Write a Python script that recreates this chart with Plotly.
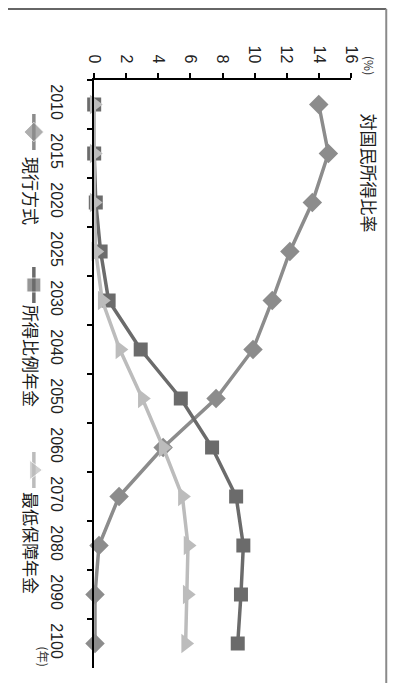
import plotly.graph_objects as go

# Pension benefit projections as a share of national income (%)
years = ["2010", "2015", "2020", "2025", "2030", "2040", "2050",
         "2060", "2070", "2080", "2090", "2100"]
current_system = [14.0, 14.6, 13.6, 12.2, 11.1, 9.9, 7.6, 4.3, 1.55, 0.3, 0.05, 0.05]
earnings_related = [0.0, 0.0, 0.1, 0.4, 0.9, 2.9, 5.4, 7.35, 8.85, 9.3, 9.15, 8.95]
minimum_guarantee = [0.0, 0.0, 0.0, 0.1, 0.5, 1.6, 3.0, 4.3, 5.5, 5.85, 5.8, 5.7]

series_names = ["現行方式", "所得比例年金", "最低保障年金"]
series_colors = ["#8c8c8c", "#6b6b6b", "#bcbcbc"]
series_symbols = ["diamond", "square", "triangle-right"]
series_sizes = [15, 14, 17]

W, H = 401, 683
FONT = "Liberation Sans, Noto Sans CJK JP, sans-serif"
JP = "Noto Sans CJK JP, sans-serif"

# plot-area placement in pixels
left, right, top, bottom = 90, 358, 80, 668

fig = go.Figure()

for name, vals, col, sym, sz in zip(series_names,
                                    [current_system, earnings_related, minimum_guarantee],
                                    series_colors, series_symbols, series_sizes):
    fig.add_trace(go.Scatter(
        x=vals, y=years, mode="lines+markers", name=name,
        line=dict(color=col, width=3.5),
        marker=dict(symbol=sym, size=sz, color=col),
        cliponaxis=False, showlegend=False,
        xaxis="x", yaxis="y",
    ))

# rotated legend, drawn on a full-page pixel overlay axis
legend_rows = [(132, 155), (285, 303), (470, 490)]
for (cy, ty), name, col, sym, sz in zip(legend_rows, series_names, series_colors,
                                        series_symbols, series_sizes):
    fig.add_trace(go.Scatter(
        x=[27, 27, 27], y=[cy - 18, cy, cy + 18], mode="lines+markers",
        line=dict(color=col, width=3.5),
        marker=dict(symbol=sym, size=[0, sz, 0], color=col),
        showlegend=False, hoverinfo="skip", xaxis="x2", yaxis="y2",
    ))
    fig.add_annotation(x=25, y=ty, xref="x2", yref="y2", text=name,
                       textangle=90, showarrow=False, xanchor="center", yanchor="top",
                       font=dict(family=JP, size=17, color="#1a1a1a"))

fig.add_annotation(x=378, y=112, xref="x2", yref="y2", text="対国民所得比率",
                   textangle=90, showarrow=False, xanchor="center", yanchor="top",
                   font=dict(family=JP, size=17, color="#1a1a1a"))
fig.add_annotation(x=378, y=66, xref="x2", yref="y2", text="(%)",
                   textangle=90, showarrow=False, xanchor="center", yanchor="middle",
                   font=dict(family=JP, size=12, color="#333"))
fig.add_annotation(x=38, y=657, xref="x2", yref="y2", text="(年)",
                   textangle=90, showarrow=False, xanchor="center", yanchor="middle",
                   font=dict(family=JP, size=12, color="#333"))

# outer frame: top and right edges
fig.add_shape(type="line", xref="x2", yref="y2", x0=0, x1=395, y0=9, y1=9,
              line=dict(color="#333333", width=1.5))
fig.add_shape(type="line", xref="x2", yref="y2", x0=395, x1=395, y0=9, y1=H,
              line=dict(color="#8a8a8a", width=2))

fig.update_layout(
    width=W, height=H,
    margin=dict(l=0, r=0, t=0, b=0),
    paper_bgcolor="white", plot_bgcolor="rgba(0,0,0,0)",
    font=dict(family=FONT, size=16, color="#222"),
    xaxis=dict(
        domain=[left / W, right / W], anchor="y", side="top",
        range=[0, 16], dtick=2, tickangle=90,
        ticks="outside", ticklen=5, tickwidth=2, tickcolor="black",
        showline=True, linewidth=2, linecolor="black",
        showgrid=False, zeroline=False, ticklabelstandoff=4,
        tickfont=dict(size=16, family=FONT, color="#222"),
    ),
    yaxis=dict(
        domain=[(H - bottom) / H, (H - top) / H], anchor="x",
        type="category", categoryorder="array", categoryarray=years,
        range=[len(years) - 0.5, -0.5], tickangle=90, tickson="boundaries",
        ticks="outside", ticklen=5, tickwidth=2, tickcolor="black",
        showline=True, linewidth=2, linecolor="black",
        showgrid=False, zeroline=False, ticklabelstandoff=22,
        tickfont=dict(size=16, family=FONT, color="#222"),
    ),
    xaxis2=dict(domain=[0, 1], anchor="y2", range=[0, W], visible=False, fixedrange=True),
    yaxis2=dict(domain=[0, 1], anchor="x2", range=[H, 0], visible=False, fixedrange=True),
    showlegend=False,
)

fig.write_html("out.html")
